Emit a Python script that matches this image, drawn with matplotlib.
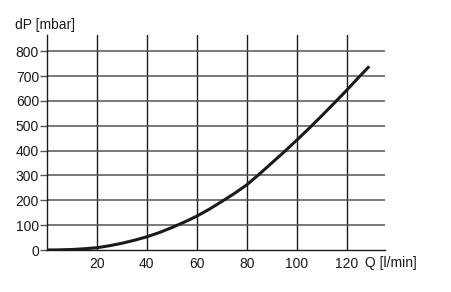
import matplotlib
matplotlib.use("Agg")
import matplotlib.pyplot as plt

# Data
Q = [0, 5, 10, 15, 20, 25, 30, 35, 40, 45, 50, 55, 60, 65, 70, 75, 80,
     85, 90, 95, 100, 105, 110, 115, 120, 125, 129]
dP = [0, 0.5, 2, 5, 9, 17, 27, 39, 53, 70, 90, 112, 136, 164, 195, 227, 262,
      305, 350, 395, 442, 490, 540, 591, 643, 697, 739]

x_ticks = [20, 40, 60, 80, 100, 120]
y_ticks = [0, 100, 200, 300, 400, 500, 600, 700, 800]

plt.rcParams['font.family'] = ['Liberation Sans', 'DejaVu Sans']

fig = plt.figure(figsize=(4.51, 2.92), dpi=100)
W, H = 451, 292
left, right, bottom, top = 46.7, 385, 250, 35
ax = fig.add_axes([left / W, (H - bottom) / H, (right - left) / W, (bottom - top) / H])

xmax, ymax = 135.3, 865
ax.set_xlim(0, xmax)
ax.set_ylim(0, ymax)

for v in x_ticks:
    ax.axvline(v, color='#1a1a1a', lw=1.0, zorder=1)
for v in y_ticks[1:]:
    ax.axhline(v, color='#555555', lw=1.1, zorder=1)

ax.plot(Q, dP, color='#1a1a1a', lw=2.2, zorder=3, solid_capstyle='butt',
        solid_joinstyle='round')

for s in ['top', 'right']:
    ax.spines[s].set_visible(False)
for s in ['left', 'bottom']:
    ax.spines[s].set_color('#1a1a1a')
    ax.spines[s].set_linewidth(1.0)

ax.set_xticks(x_ticks)
ax.set_yticks(y_ticks)
ax.tick_params(axis='x', length=0, pad=5, labelsize=10, colors='#1a1a1a')
ax.tick_params(axis='y', length=5, width=1.0, pad=0.5, labelsize=10, colors='#1a1a1a')
ax.tick_params(axis='y', color='#555555')

fig.text(15 / W, 1 - 25 / H, 'dP [mbar]', ha='left', va='center', fontsize=10, color='#1a1a1a')
fig.text(365 / W, 1 - 263 / H, 'Q [l/min]', ha='left', va='center', fontsize=10, color='#1a1a1a')

fig.savefig('out.png', dpi=100)
